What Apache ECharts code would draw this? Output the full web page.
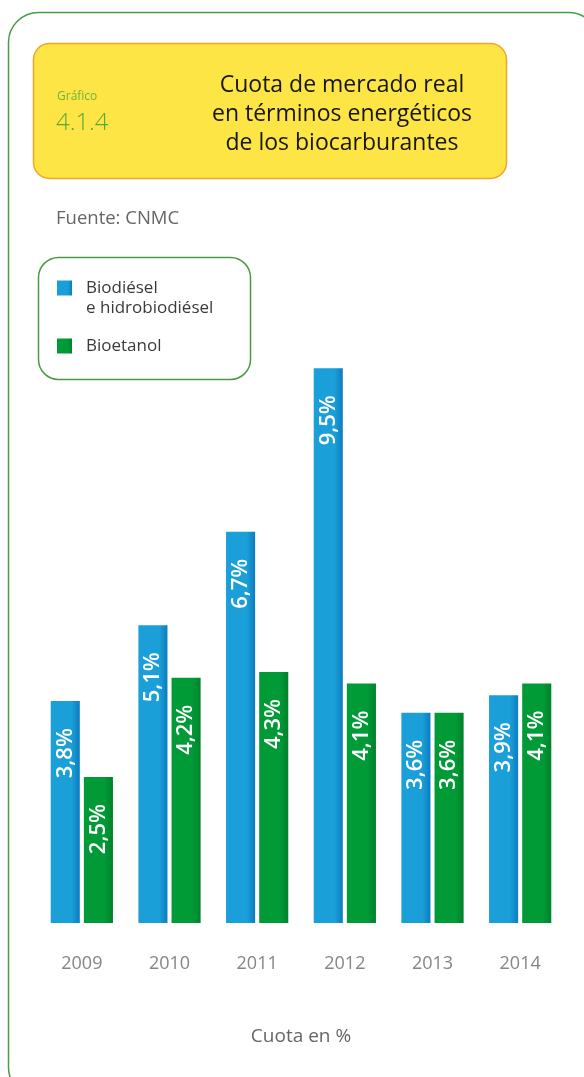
<!DOCTYPE html>
<html>
<head>
<meta charset="utf-8">
<script src="https://cdn.jsdelivr.net/npm/echarts@6/dist/echarts.min.js"></script>
<style>
  html, body { margin: 0; padding: 0; background: #fff; }
  #chart { width: 584px; height: 1077px; }
</style>
</head>
<body>
<div id="chart"></div>
<script>
// datos
const years = ['2009', '2010', '2011', '2012', '2013', '2014'];
const biodiesel = [3.8, 5.1, 6.7, 9.5, 3.6, 3.9];
const bioetanol = [2.5, 4.2, 4.3, 4.1, 3.6, 4.1];
const seriesNames = ['Biodiésel', 'Bioetanol'];

const FONT = '"Open Sans", "Noto Sans", sans-serif';
const GREEN_LINE = '#4b9a44';

function barGradient(c1, c2) {
    return new echarts.graphic.LinearGradient(0, 0, 1, 0, [
        {offset: 0, color: c1},
        {offset: 0.72, color: c1},
        {offset: 1, color: c2}
    ]);
}

const barLabel = {
    show: true,
    position: 'insideTop',
    distance: 27,
    rotate: 90,
    align: 'right',
    verticalAlign: 'middle',
    color: '#fff',
    fontFamily: FONT,
    fontWeight: 600,
    fontSize: 22,
    formatter: p => String(p.value).replace('.', ',') + '%'
};

const legendText = {
    fontFamily: FONT,
    fontSize: 17,
    color: '#3a3a3a',
    lineHeight: 20,
    padding: [0, 0, 0, 9]
};

const chart = echarts.init(document.getElementById('chart'), null, {renderer: 'canvas'});

chart.setOption({
    backgroundColor: '#fff',
    animation: false,
    title: {
        text: 'Cuota de mercado real\nen términos energéticos\nde los biocarburantes',
        left: 337,
        top: 66,
        textAlign: 'center',
        textStyle: {
            fontFamily: FONT,
            fontWeight: 'normal',
            fontSize: 23,
            lineHeight: 29,
            color: '#161616'
        }
    },
    // dos leyendas: la primera lleva un texto de dos lineas
    legend: [
        {
            left: 57,
            top: 258,
            padding: 0,
            itemWidth: 15,
            itemHeight: 15,
            icon: 'rect',
            textStyle: legendText,
            data: [seriesNames[0]],
            formatter: () => '\nBiodiésel\ne hidrobiodiésel'
        },
        {
            left: 57,
            top: 336,
            padding: 0,
            itemWidth: 15,
            itemHeight: 15,
            icon: 'rect',
            textStyle: legendText,
            data: [seriesNames[1]]
        }
    ],
    grid: {
        left: 38,
        right: 20,
        top: 339,
        bottom: 154
    },
    xAxis: {
        type: 'category',
        data: years,
        axisLine: {show: false},
        axisTick: {show: false},
        axisLabel: {
            margin: 32,
            color: '#858585',
            fontFamily: FONT,
            fontSize: 18
        },
        name: 'Cuota en %',
        nameLocation: 'middle',
        nameGap: 104,
        nameTextStyle: {
            color: '#666',
            fontFamily: FONT,
            fontSize: 19
        }
    },
    yAxis: {
        type: 'value',
        min: 0,
        max: 10,
        show: false,
        splitLine: {show: false}
    },
    series: [
        {
            name: seriesNames[0],
            type: 'bar',
            data: biodiesel,
            barGap: '14%',
            barCategoryGap: '29%',
            itemStyle: {color: barGradient('#1b9fd8', '#0b7cc1')},
            label: barLabel
        },
        {
            name: seriesNames[1],
            type: 'bar',
            data: bioetanol,
            itemStyle: {color: barGradient('#009a36', '#00812b')},
            label: barLabel
        }
    ],
    graphic: [
        // marco exterior
        {
            type: 'rect',
            z: -10,
            shape: {x: 8.5, y: 12.5, width: 590, height: 1085, r: 30},
            style: {fill: 'none', stroke: GREEN_LINE, lineWidth: 1.5}
        },
        // caja amarilla del titulo
        {
            type: 'rect',
            z: -5,
            shape: {x: 33.5, y: 43.5, width: 473, height: 135, r: 16},
            style: {fill: '#fde545', stroke: '#f3a52a', lineWidth: 1.5}
        },
        {
            type: 'text',
            left: 57,
            top: 91,
            style: {text: 'Gráfico', fill: '#6db443', font: '12px ' + FONT}
        },
        {
            type: 'text',
            left: 56,
            top: 111,
            style: {text: '4.1.4', fill: '#5aa83a', font: '300 24px ' + FONT}
        },
        {
            type: 'text',
            left: 56,
            top: 209,
            style: {text: 'Fuente: CNMC', fill: '#666', font: '18.5px ' + FONT}
        },
        // caja de la leyenda
        {
            type: 'rect',
            z: -5,
            shape: {x: 38.5, y: 257.5, width: 212, height: 122, r: 20},
            style: {fill: 'none', stroke: GREEN_LINE, lineWidth: 1.5}
        }
    ]
});
</script>
</body>
</html>
